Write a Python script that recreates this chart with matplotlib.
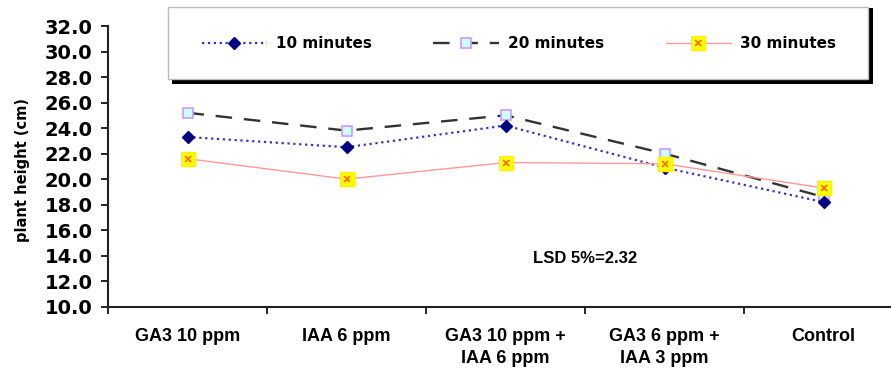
import numpy as np
import matplotlib
matplotlib.use("Agg")
import matplotlib.pyplot as plt
from matplotlib.patches import Rectangle

# Data
categories = ["GA3 10 ppm", "IAA 6 ppm", "GA3 10 ppm +\nIAA 6 ppm",
              "GA3 6 ppm +\nIAA 3 ppm", "Control"]
min10 = [23.3, 22.5, 24.2, 20.9, 18.2]
min20 = [25.2, 23.8, 25.0, 22.0, 18.6]
min30 = [21.6, 20.0, 21.3, 21.2, 19.3]
series_names = ["10 minutes", "20 minutes", "30 minutes"]
y_ticks = np.arange(10, 33, 2)
lsd_text = "LSD 5%=2.32"

W, H = 891, 372
fig = plt.figure(figsize=(W / 100, H / 100), dpi=100)
ax = fig.add_axes([108 / W, 1 - 306.7 / H, 795 / W, (306.7 - 26) / H])

x = np.arange(len(categories))

# 20 minutes: dark dashed line, pale cyan squares with violet edge
l20, = ax.plot(x, min20, color="#333333", lw=1.7, dashes=(7, 5),
               marker="s", ms=7.5, mfc="#ccffff", mec="#cc99ff", mew=1.2, zorder=3)
# 10 minutes: blue dotted line, navy diamonds
l10, = ax.plot(x, min10, color="#3333cc", lw=1.6, ls=":",
               marker="D", ms=6.5, mfc="#000080", mec="#000080", zorder=4)
# 30 minutes: thin pink line, yellow squares with orange cross
l30, = ax.plot(x, min30, color="#ff9999", lw=1.0,
               marker="s", ms=9.5, mfc="#ffff00", mec="#ffee00", zorder=5)
x30, = ax.plot(x, min30, ls="none", marker="x", ms=5, mec="#ff6600",
               mew=1.2, zorder=6)

ax.set_xlim(-0.5, len(categories) - 0.5)
ax.set_ylim(10, 32)
ax.set_yticks(y_ticks)
ax.set_yticklabels([f"{v:.1f}" for v in y_ticks],
                   fontfamily="DejaVu Sans", fontweight="bold", fontsize=14)
ax.set_xticks(x)
ax.set_xticklabels(categories, fontfamily="Liberation Sans",
                   fontweight="bold", fontsize=13, linespacing=1.4)
ax.set_xticks(np.arange(-0.5, len(categories)), minor=True)
ax.tick_params(axis="x", which="major", length=0, pad=15)
ax.tick_params(axis="x", which="minor", length=5, width=1.2, direction="out")
ax.tick_params(axis="y", length=5, width=1.2, direction="out", pad=6)

for side in ["top", "right"]:
    ax.spines[side].set_visible(False)
for side in ["left", "bottom"]:
    ax.spines[side].set_linewidth(1.5)
    ax.spines[side].set_color("#222222")

ax.text(2.5, 13.8, lsd_text, ha="center", va="center",
        fontfamily="Liberation Sans", fontweight="bold", fontsize=12)

fig.text(23 / W, 1 - 170 / H, "plant height (cm)", rotation=90,
         ha="center", va="center", fontfamily="DejaVu Sans",
         fontweight="bold", fontsize=10.5)

# legend box with black drop shadow
fig.patches.append(Rectangle((172 / W, 1 - 84 / H), 701 / W, 76 / H,
                             transform=fig.transFigure, facecolor="black",
                             edgecolor="none", zorder=1))
fig.patches.append(Rectangle((168 / W, 1 - 79 / H), 700 / W, 72 / H,
                             transform=fig.transFigure, facecolor="white",
                             edgecolor="#bbbbbb", lw=1, zorder=2))

leg = fig.legend([l10, l20, (l30, x30)], series_names, loc="center",
                 bbox_to_anchor=(519 / W, 1 - 44 / H), ncol=3, frameon=False,
                 handlelength=4.3, handletextpad=0.6, columnspacing=4.0,
                 prop={"family": "DejaVu Sans", "weight": "bold", "size": 11})
leg.set_zorder(3)

fig.savefig("out.png", dpi=100)
